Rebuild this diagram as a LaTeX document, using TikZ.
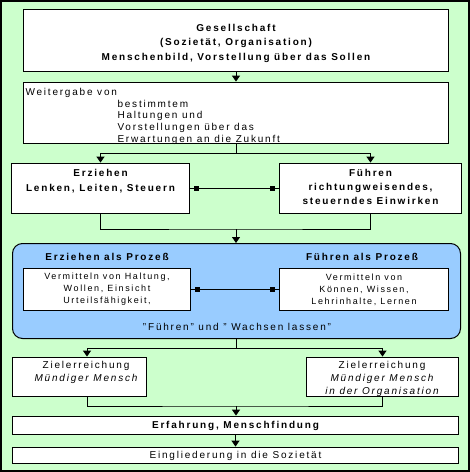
\documentclass[tikz,border=0pt]{standalone}
\usepackage{fontspec}
\setmainfont{Liberation Sans}[LetterSpace=18]
\usepackage{xcolor}
\usepackage{tikz}
\usetikzlibrary{arrows.meta}
\usetikzlibrary{calc}
\usetikzlibrary{positioning}
\definecolor{bggreen}{HTML}{CCFFCC}
\definecolor{procblue}{HTML}{99CCFF}

\begin{document}
\begin{tikzpicture}[x=1pt,y=-1pt,>={Triangle[width=8pt,length=6pt]},line width=1pt]
  \tikzstyle{box}=[draw=black, fill=white, line width=1.8pt, inner sep=0pt, align=center]
  \tikzstyle{txt}=[inner sep=0pt, align=center, font=\fontsize{10}{14.5}\selectfont]
  \tikzstyle{small}=[inner sep=0pt, align=center, font=\fontsize{9}{12}\selectfont]
  \tikzstyle{link}=[{Square[length=5pt,width=5pt]}-{Square[length=5pt,width=5pt]}, shorten <=4pt, shorten >=4pt]

  \useasboundingbox (0,0) rectangle (470,472);
  \draw[fill=bggreen, line width=2pt] (1,1) rectangle (469,471);

  \node[box, minimum width=425pt, minimum height=62pt] (soc) at (236,40.5) {};
  \node[txt, font=\fontsize{10}{14.5}\selectfont\bfseries] (soctext) at (236,43)
        {Gesellschaft\\(Sozietät, Organisation)\\Menschenbild, Vorstellung über das Sollen};
  \node[box, minimum width=425pt, minimum height=61pt] (weiter) at (236,113) {};
  \node[txt, align=left, anchor=north west] (weitertext) at (25,87.5) {Weitergabe von};
  \node[txt, align=left, anchor=north west, font=\fontsize{10}{11.7}\selectfont] (weiterlist) at (117,99.5)
        {bestimmtem\\Haltungen und\\Vorstellungen über das\\Erwartungen an die Zukunft};

  \node[box, minimum width=178pt, minimum height=50pt] (erz) at (100.5,188.5) {};
  \node[box, minimum width=182pt, minimum height=50pt] (fuehr) at (370.5,188.5) {};
  \node[txt, font=\fontsize{10}{14.5}\selectfont\bfseries, below=6.5pt of erz.north] (erztext) {Erziehen\\Lenken, Leiten, Steuern};
  \node[txt, font=\fontsize{10}{14}\selectfont\bfseries, below=6.5pt of fuehr.north] (fuehrtext) {Führen\\richtungweisendes,\\steuerndes Einwirken};

  \coordinate (split) at (236,153);
  \draw (weiter.south) -- (split);
  \draw[->] (split) -| (erz);
  \draw[->] (split) -| (fuehr);
  \draw[->] (soc) -- (weiter);
  \draw (erz) -- (fuehr);
  \draw[link] (erz) -- (fuehr);

  \node[draw, fill=procblue, rounded corners=10pt, minimum width=448pt, minimum height=95pt] (proc) at (236.5,291) {};
  \coordinate (join) at (236,229);
  \draw (erz.south) |- (join) -| (fuehr.south);
  \draw[->] (join) -- (join |- proc.north);

  \node[txt, font=\fontsize{10}{12}\selectfont\bfseries] (erzproc) at (107,257) {Erziehen als Prozeß};
  \node[txt, font=\fontsize{10}{12}\selectfont\bfseries] (fuehrproc) at (362,257) {Führen als Prozeß};
  \node[box, minimum width=167pt, minimum height=42pt, font=\fontsize{9}{12}\selectfont] (vermhalt) at (107,289.5)
        {Vermitteln von Haltung,\\Wollen, Einsicht\\Urteilsfähigkeit,};
  \node[box, minimum width=169pt, minimum height=42pt, font=\fontsize{9}{12}\selectfont] (vermkoen) at (364,289.5)
        {Vermitteln von\\Können, Wissen,\\Lehrinhalte, Lernen};
  \draw (vermhalt) -- (vermkoen);
  \draw[link] (vermhalt) -- (vermkoen);
  \node[small, font=\fontsize{10}{12}\selectfont] (wachsen) at (237,327) {"Führen" und " Wachsen lassen"};

  \node[box, minimum width=134pt, minimum height=39pt] (ziel1) at (79.5,377) {};
  \node[box, minimum width=152pt, minimum height=39pt] (ziel2) at (382.5,377) {};
  \node[txt, font=\fontsize{10}{13}\selectfont, anchor=north] (ziel1text) at (86,361)
        {Zielerreichung\\{\itshape Mündiger Mensch}};
  \node[txt, font=\fontsize{10}{13}\selectfont, anchor=north] (ziel2text) at (382,361)
        {Zielerreichung\\{\itshape Mündiger Mensch}\\{\itshape in der Organisation}};

  \coordinate (split2) at (236,348);
  \draw (split2 |- proc.south) -- (split2);
  \draw[->] (split2) -| ([xshift=7.5pt]ziel1.north);
  \draw[->] (split2) -| (ziel2);

  \node[box, minimum width=446pt, minimum height=18pt, font=\fontsize{10}{12}\selectfont\bfseries] (erf) at (235.5,425.5)
        {Erfahrung, Menschfindung};
  \node[box, minimum width=446pt, minimum height=16pt, font=\fontsize{10}{12}\selectfont] (eing) at (235.5,455.5)
        {Eingliederung in die Sozietät};

  \coordinate (join2) at (236,406);
  \draw ([xshift=7.5pt]ziel1.south) |- (join2) -| (ziel2.south);
  \draw[->] (join2) -- (join2 |- erf.north);
  \draw[->] (erf) -- (eing);
\end{tikzpicture}
\end{document}
